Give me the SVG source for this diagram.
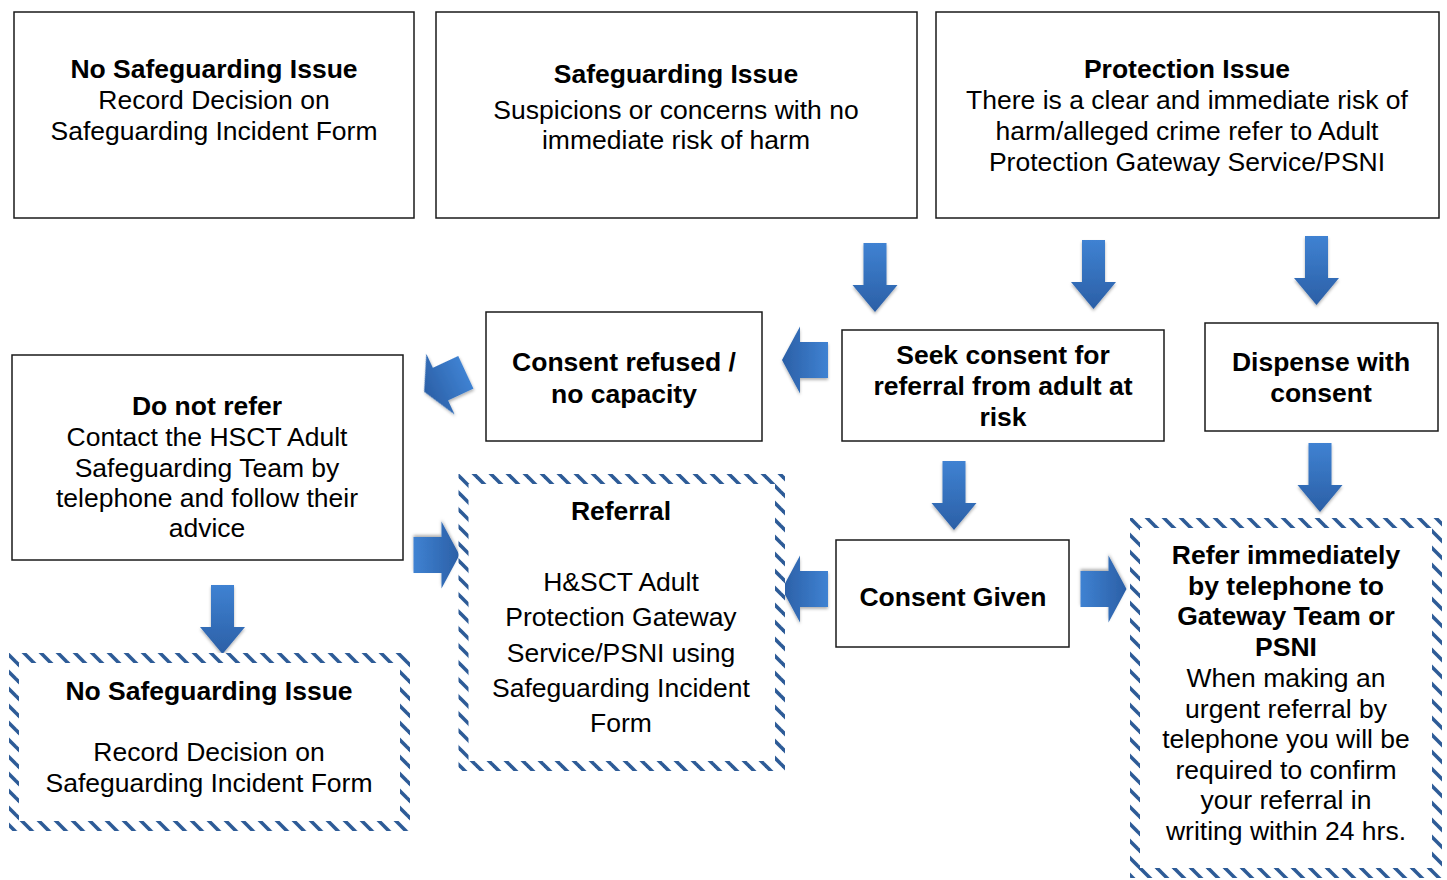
<svg xmlns="http://www.w3.org/2000/svg" width="1447" height="880" viewBox="0 0 1447 880">
<style>
.box{fill:#fff;stroke:#1a1a1a;stroke-width:1.5}
.sbox{fill:#fff;stroke:url(#stripes);stroke-width:10}
text{font-family:"Liberation Sans",Arial,sans-serif;font-size:26.5px;fill:#000;text-anchor:middle}
.b{font-weight:bold}
.arr{filter:url(#sh)}
</style>
<defs>
<pattern id="stripes" patternUnits="userSpaceOnUse" width="17" height="17">
<rect width="17" height="17" fill="#fff"/>
<g stroke="#2d5b97" stroke-width="3.6">
<line x1="-17" y1="-17" x2="34" y2="34"/>
<line x1="0" y1="-17" x2="34" y2="17"/>
<line x1="-17" y1="0" x2="17" y2="34"/>
</g>
</pattern>
<linearGradient id="gv" x1="0" y1="0" x2="0" y2="1">
<stop offset="0" stop-color="#3f82d2"/>
<stop offset="1" stop-color="#2b5fa6"/>
</linearGradient>
<linearGradient id="gh" x1="1" y1="0" x2="0" y2="0">
<stop offset="0" stop-color="#3f82d2"/>
<stop offset="1" stop-color="#2b5fa6"/>
</linearGradient>
<filter id="sh" x="-30%" y="-30%" width="160%" height="160%">
<feDropShadow dx="0" dy="2" stdDeviation="1.5" flood-color="#000" flood-opacity="0.3"/>
</filter>
<polygon id="down" points="-11.5,-34 11.5,-34 11.5,8 22.5,8 0,35 -22.5,8 -11.5,8" fill="url(#gv)"/>
<polygon id="left" points="-23,0 -5,-33.5 -5,-18 23,-18 23,18 -5,18 -5,33.5" fill="url(#gh)"/>
</defs>
<rect width="1447" height="880" fill="#fff"/>

<g id="connectors">
<use href="#down" class="arr" transform="translate(875,277)"/>
<use href="#down" class="arr" transform="translate(1093.5,274)"/>
<use href="#down" class="arr" transform="translate(1316.5,270)"/>
<use href="#left" class="arr" transform="translate(805,360)"/>
<use href="#left" class="arr" transform="translate(445,382) rotate(-25)"/>
<use href="#left" class="arr" transform="translate(436.5,555) rotate(180)"/>
<use href="#down" class="arr" transform="translate(222.5,619)"/>
<use href="#down" class="arr" transform="translate(954,495)"/>
<use href="#left" class="arr" transform="translate(805,589)"/>
<use href="#left" class="arr" transform="translate(1103.5,589) rotate(180)"/>
<use href="#down" class="arr" transform="translate(1320,477)"/>
</g>

<g id="no-safeguarding-top">
<rect class="box" x="14" y="12" width="400" height="206"/>
<text x="214" y="78" class="b">No Safeguarding Issue</text>
<text x="214" y="109">Record Decision on</text>
<text x="214" y="140">Safeguarding Incident Form</text>
</g>

<g id="safeguarding-issue">
<rect class="box" x="436" y="12" width="481" height="206"/>
<text x="676" y="83" class="b">Safeguarding Issue</text>
<text x="676" y="119">Suspicions or concerns with no</text>
<text x="676" y="149">immediate risk of harm</text>
</g>

<g id="protection-issue">
<rect class="box" x="936" y="12" width="503" height="206"/>
<text x="1187" y="78" class="b">Protection Issue</text>
<text x="1187" y="109">There is a clear and immediate risk of</text>
<text x="1187" y="140">harm/alleged crime refer to Adult</text>
<text x="1187" y="171">Protection Gateway Service/PSNI</text>
</g>

<g id="consent-refused">
<rect class="box" x="486" y="312" width="276" height="129"/>
<text x="624" y="371" class="b">Consent refused /</text>
<text x="624" y="403" class="b">no capacity</text>
</g>

<g id="seek-consent">
<rect class="box" x="842" y="330" width="322" height="111"/>
<text x="1003" y="364" class="b">Seek consent for</text>
<text x="1003" y="395" class="b">referral from adult at</text>
<text x="1003" y="426" class="b">risk</text>
</g>

<g id="dispense-consent">
<rect class="box" x="1205" y="323" width="233" height="108"/>
<text x="1321" y="371" class="b">Dispense with</text>
<text x="1321" y="402" class="b">consent</text>
</g>

<g id="do-not-refer">
<rect class="box" x="12" y="355" width="391" height="205"/>
<text x="207" y="415" class="b">Do not refer</text>
<text x="207" y="446">Contact the HSCT Adult</text>
<text x="207" y="477">Safeguarding Team by</text>
<text x="207" y="507">telephone and follow their</text>
<text x="207" y="537">advice</text>
</g>

<g id="consent-given">
<rect class="box" x="836" y="540" width="233" height="107"/>
<text x="953" y="606" class="b">Consent Given</text>
</g>

<g id="referral">
<rect class="sbox" x="463.5" y="479" width="316.5" height="287"/>
<text x="621" y="520" class="b">Referral</text>
<text x="621" y="591">H&amp;SCT Adult</text>
<text x="621" y="626">Protection Gateway</text>
<text x="621" y="662">Service/PSNI using</text>
<text x="621" y="697">Safeguarding Incident</text>
<text x="621" y="732">Form</text>
</g>

<g id="no-safeguarding-bottom">
<rect class="sbox" x="14" y="658" width="391" height="168"/>
<text x="209" y="700" class="b">No Safeguarding Issue</text>
<text x="209" y="761">Record Decision on</text>
<text x="209" y="792">Safeguarding Incident Form</text>
</g>

<g id="refer-immediately">
<rect class="sbox" x="1135" y="523" width="302" height="350"/>
<text x="1286" y="564" class="b">Refer immediately</text>
<text x="1286" y="595" class="b">by telephone to</text>
<text x="1286" y="625" class="b">Gateway Team or</text>
<text x="1286" y="656" class="b">PSNI</text>
<text x="1286" y="687">When making an</text>
<text x="1286" y="718">urgent referral by</text>
<text x="1286" y="748">telephone you will be</text>
<text x="1286" y="779">required to confirm</text>
<text x="1286" y="809">your referral in</text>
<text x="1286" y="840">writing within 24 hrs.</text>
</g>
</svg>
